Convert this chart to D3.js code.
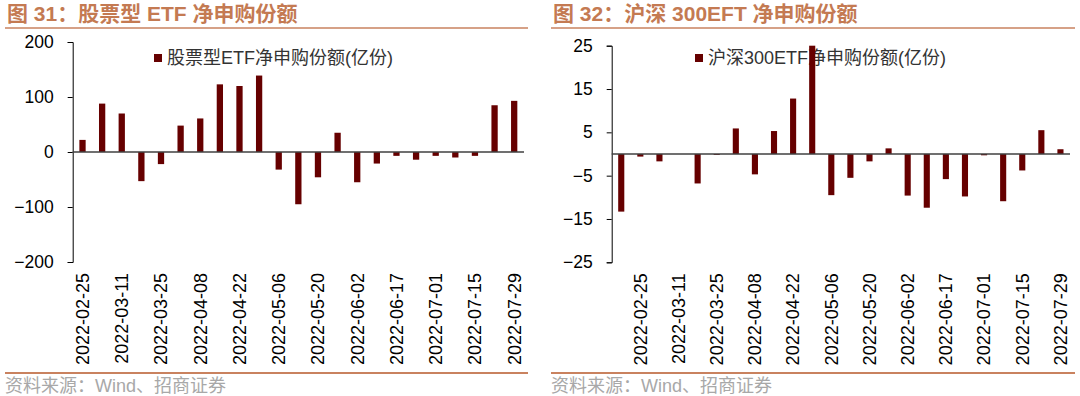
<!DOCTYPE html>
<html>
<head>
<meta charset="utf-8">
<script src="https://cdn.jsdelivr.net/npm/d3@7"></script>
<style>
  html, body { margin: 0; padding: 0; background: #fff; }
  svg { display: block; }
</style>
</head>
<body>
<div id="graph-container"></div>
<script>
// Data
const leftDates = ["2022-02-25", "2022-03-04", "2022-03-11", "2022-03-18", "2022-03-25", "2022-04-01",
    "2022-04-08", "2022-04-15", "2022-04-22", "2022-04-29", "2022-05-06", "2022-05-13", "2022-05-20",
    "2022-05-27", "2022-06-02", "2022-06-10", "2022-06-17", "2022-06-24", "2022-07-01", "2022-07-08",
    "2022-07-15", "2022-07-22", "2022-07-29"];
const leftValues = [22, 88, 70, -53, -22, 48, 61, 123, 120, 139, -32, -95, -46, 35, -55, -21, -7,
    -14, -7, -10, -7, 85, 93];
const leftTicks = [-200, -100, 0, 100, 200];

const rightDates = ["2022-02-18", "2022-02-25", "2022-03-04", "2022-03-11", "2022-03-18", "2022-03-25",
    "2022-04-01", "2022-04-08", "2022-04-15", "2022-04-22", "2022-04-29", "2022-05-06", "2022-05-13",
    "2022-05-20", "2022-05-27", "2022-06-02", "2022-06-10", "2022-06-17", "2022-06-24", "2022-07-01",
    "2022-07-08", "2022-07-15", "2022-07-22", "2022-07-29"];
const rightValues = [-13.3, -0.6, -1.7, 0, -6.8, -0.2, 5.9, -4.7, 5.3, 12.8, 25, -9.5, -5.5, -1.7,
    1.3, -9.6, -12.4, -5.8, -9.8, -0.3, -10.9, -3.8, 5.5, 1.1];
const rightTicks = [-25, -15, -5, 5, 15, 25];

const width = 1080;
const height = 396;
const barColor = "#660000";
const accent = "#c47a52";
const font = "'Liberation Sans', 'Noto Sans CJK SC', sans-serif";

const svg = d3.select("#graph-container").append("svg")
    .attr("width", width)
    .attr("height", height)
    .attr("viewBox", [0, 0, width, height])
    .style("font-family", font);

function drawPanel(p) {
    const g = svg.append("g");

    // Title and rules
    g.append("text")
        .attr("x", p.left0 + 2)
        .attr("y", 21)
        .attr("fill", accent)
        .attr("font-size", 21)
        .attr("font-weight", "bold")
        .text(p.title);

    g.append("line")
        .attr("x1", p.left0).attr("x2", p.right0)
        .attr("y1", 28).attr("y2", 28)
        .attr("stroke", "#c9825f").attr("stroke-width", 1.6);

    g.append("line")
        .attr("x1", p.left0).attr("x2", p.right0)
        .attr("y1", 373).attr("y2", 373)
        .attr("stroke", "#c9825f").attr("stroke-width", 2);

    g.append("text")
        .attr("x", p.left0)
        .attr("y", 392)
        .attr("fill", "#a8a8a8")
        .attr("font-size", 18)
        .text("资料来源：Wind、招商证券");

    // Scales
    const x = d3.scaleBand()
        .domain(p.dates)
        .range([p.x0, p.x1])
        .paddingInner(0.68)
        .paddingOuter(0.34);

    const y = d3.scaleLinear()
        .domain(p.domain)
        .range([p.yBottom, p.yTop]);

    // Y axis
    g.append("g")
        .attr("transform", `translate(${p.x0},0)`)
        .call(d3.axisLeft(y).tickValues(p.ticks).tickSize(5).tickPadding(14))
        .call(a => a.selectAll("text")
            .attr("font-size", 17.5)
            .attr("font-family", font)
            .attr("fill", "#000"))
        .call(a => a.selectAll("line").attr("stroke", "#000"))
        .call(a => a.select(".domain").attr("stroke", "#000"));

    // Date labels
    g.append("g")
        .attr("transform", `translate(0,${p.yBottom})`)
        .call(d3.axisBottom(x).tickValues(p.labels).tickSize(0))
        .call(a => a.select(".domain").remove())
        .call(a => a.selectAll("text")
            .attr("font-size", 18)
            .attr("font-family", font)
            .attr("fill", "#000")
            .attr("transform", "rotate(-90)")
            .attr("text-anchor", "end")
            .attr("x", -11)
            .attr("y", 0)
            .attr("dy", "0.35em"));

    // Legend
    const legend = g.append("g")
        .attr("transform", `translate(${p.legendX},58)`);
    legend.append("rect")
        .attr("x", 0).attr("y", -4)
        .attr("width", 8).attr("height", 8)
        .attr("fill", barColor);
    legend.append("text")
        .attr("x", 13)
        .attr("dy", "0.35em")
        .attr("font-size", 18)
        .attr("fill", "#333")
        .text(p.legend);

    // Bars
    g.append("g")
        .attr("fill", barColor)
        .selectAll("rect")
        .data(p.values.map((v, i) => ({date: p.dates[i], value: v})))
        .join("rect")
        .attr("x", d => x(d.date))
        .attr("width", x.bandwidth())
        .attr("y", d => y(Math.max(0, d.value)))
        .attr("height", d => Math.abs(y(d.value) - y(0)));

    // Zero line
    g.append("line")
        .attr("x1", p.x0).attr("x2", p.x1)
        .attr("y1", y(0)).attr("y2", y(0))
        .attr("stroke", "#404040")
        .attr("stroke-width", 1.5);
}

drawPanel({
    title: "图 31：股票型 ETF 净申购份额",
    legend: "股票型ETF净申购份额(亿份)",
    dates: leftDates,
    values: leftValues,
    labels: leftDates.filter((d, i) => i % 2 === 0),
    ticks: leftTicks,
    domain: [-200, 200],
    left0: 5, right0: 528,
    x0: 72.7, x1: 524,
    yTop: 42, yBottom: 262,
    legendX: 154
});

drawPanel({
    title: "图 32：沪深 300EFT 净申购份额",
    legend: "沪深300ETF净申购份额(亿份)",
    dates: rightDates,
    values: rightValues,
    labels: rightDates.filter((d, i) => i % 2 === 1),
    ticks: rightTicks,
    domain: [-25, 25],
    left0: 551, right0: 1075,
    x0: 611.7, x1: 1070,
    yTop: 45.7, yBottom: 262.3,
    legendX: 695
});
</script>
</body>
</html>
